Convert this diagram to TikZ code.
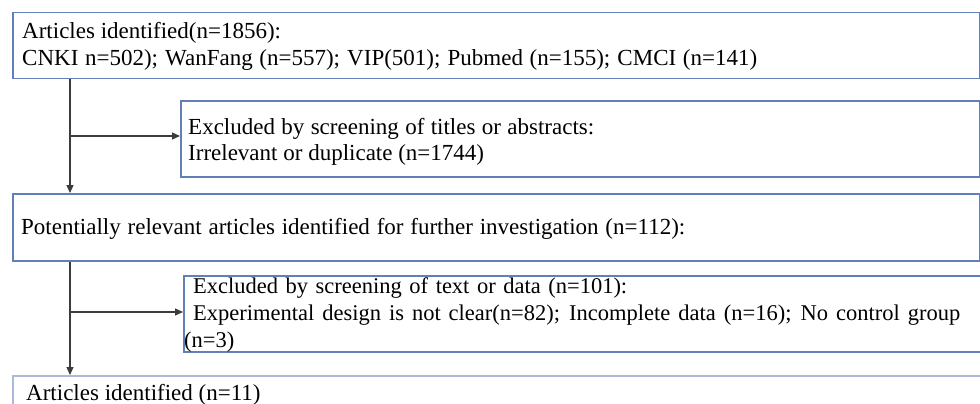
\documentclass[tikz,border=0pt]{standalone}
\usepackage{fontspec}
\setmainfont{Liberation Serif}
\usetikzlibrary{arrows.meta}
\definecolor{boxblue}{RGB}{98,128,184}
\definecolor{lightblue}{RGB}{170,186,216}
\definecolor{arrowgray}{RGB}{60,60,60}
\tikzset{
  box/.style={draw=boxblue, line width=1.5pt, fill=white, rectangle, inner sep=0pt, anchor=north west},
  txt/.style={anchor=base west, inner sep=0pt, font=\fontsize{23}{27}\selectfont},
  txtb/.style={anchor=base west, inner sep=0pt, font=\fontsize{22.5}{27}\selectfont},
  arr/.style={draw=arrowgray, line width=1.1pt, -{Triangle[length=8pt,width=7pt]}}
}
\begin{document}
\begin{tikzpicture}[x=1pt,y=-1pt]
\useasboundingbox (0,0) rectangle (980,404);
\clip (0,0) rectangle (980,404);
\fill[white] (0,0) rectangle (980,404);
% boxes
\node[box, minimum width=967pt, minimum height=66pt] (b1) at (12,12) {};
\node[box, minimum width=799pt, minimum height=76pt] (b2) at (180,100) {};
\node[box, minimum width=967pt, minimum height=67pt] (b3) at (12,193) {};
\node[box, minimum width=820pt, minimum height=76pt] (b4) at (183,275) {};
\node[box, draw=lightblue, minimum width=990pt, minimum height=60pt] (b5) at (12,375) {};
% texts
\node[txt] (t1a) at (22,39) {Articles identified(n=1856):};
\node[txt] (t1b) at (22,66) {\makebox[735pt][s]{CNKI n=502); WanFang (n=557); VIP(501); Pubmed (n=155); CMCI (n=141)}};
\node[txt] (t2a) at (188,134) {\makebox[406pt][s]{Excluded by screening of titles or abstracts:}};
\node[txt] (t2b) at (188,160) {Irrelevant or duplicate (n=1744)};
\node[txt] (t3) at (21,234) {\makebox[664pt][s]{Potentially relevant articles identified for further investigation (n=112):}};
\node[txtb] (t4a) at (193,293) {\makebox[434pt][s]{Excluded by screening of text or data (n=101):}};
\node[txtb] (t4b) at (193,320) {\makebox[767pt][s]{Experimental design is not clear(n=82); Incomplete data (n=16); No control group}};
\node[txtb] (t4c) at (184,347) {(n=3)};
\node[txt] (t5) at (26,400) {Articles identified (n=11)};
% connectors
\coordinate (j1) at (70,136);
\coordinate (j2) at (70,312);
\draw[arr] ([xshift=58pt]b1.south west) -- ([xshift=58pt]b3.north west);
\draw[arr] (j1) -- (j1 -| b2.west);
\draw[arr] ([xshift=58pt]b3.south west) -- ([xshift=58pt]b5.north west);
\draw[arr] (j2) -- (j2 -| b4.west);
\end{tikzpicture}
\end{document}
